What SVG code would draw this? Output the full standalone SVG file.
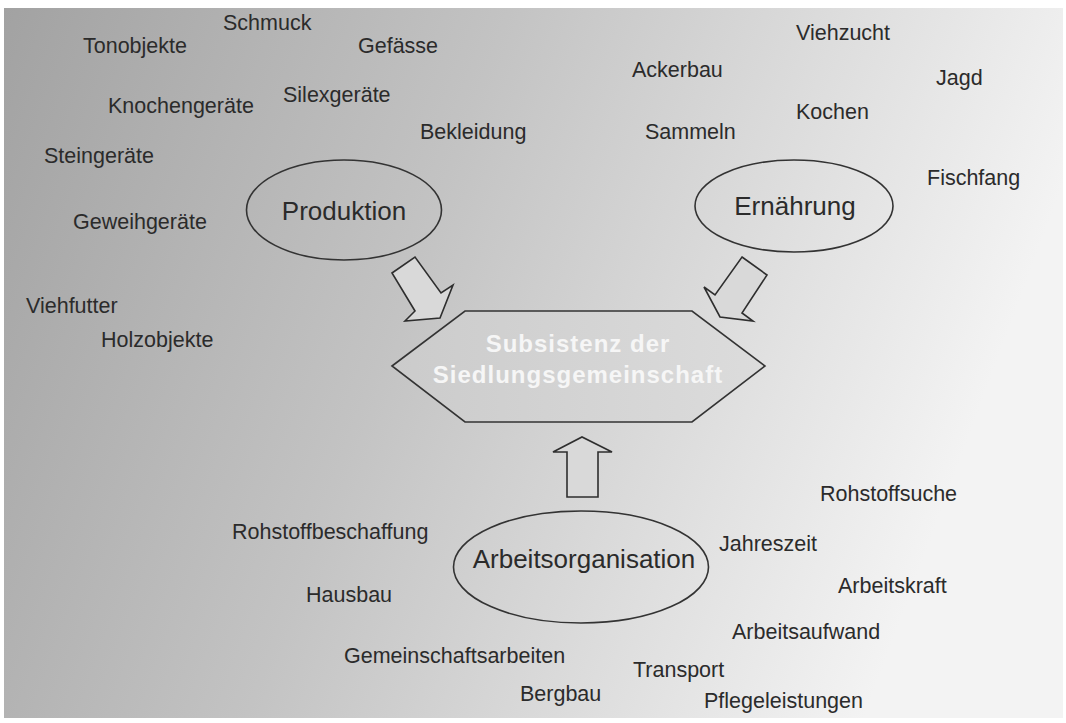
<svg xmlns="http://www.w3.org/2000/svg" width="1066" height="723" viewBox="0 0 1066 723">
  <defs>
    <linearGradient id="bg" x1="0" y1="0" x2="1" y2="0.25">
      <stop offset="0" stop-color="#a2a2a2"/>
      <stop offset="0.45" stop-color="#c3c3c3"/>
      <stop offset="1" stop-color="#f3f3f3"/>
    </linearGradient>
    <linearGradient id="hexfill" x1="0" y1="0" x2="1" y2="0">
      <stop offset="0" stop-color="#cbcbcb"/>
      <stop offset="1" stop-color="#dcdcdc"/>
    </linearGradient>
    <style>
      .lbl { font-family: "Liberation Sans", Arial, sans-serif; font-size: 21.5px; fill: #2b2b2b; }
      .big { font-family: "Liberation Sans", Arial, sans-serif; font-size: 26px; fill: #2b2b2b; text-anchor: middle; }
      .hex { font-family: "Liberation Sans", Arial, sans-serif; font-size: 24px; font-weight: bold; fill: #f6f6f6; text-anchor: middle; letter-spacing: 1px; }
      .ell { fill: none; stroke: #333333; stroke-width: 1.6; }
      .arr { fill: #d9d9d9; stroke: #2e2e2e; stroke-width: 1.6; stroke-linejoin: miter; }
    </style>
  </defs>
  <rect x="0" y="0" width="1066" height="723" fill="#ffffff"/>
  <rect x="4" y="8" width="1059" height="710" fill="url(#bg)"/>

  <g id="connectors">
    <polygon class="arr" points="392,273 415,257 441,293 453,285 440,318 405,321 415,311"/>
    <polygon class="arr" points="742,257 767,275 742,313 753,321 720,317 704,287 715,295"/>
    <polygon class="arr" points="567,497 567,452 553,452 582,437 612,452 598,452 598,497"/>
  </g>

  <g id="node-produktion">
    <ellipse class="ell" cx="344" cy="210" rx="97.5" ry="50"/>
    <text class="big" x="344" y="220">Produktion</text>
  </g>
  <g id="node-ernaehrung">
    <ellipse class="ell" cx="794" cy="206" rx="99" ry="46"/>
    <text class="big" x="795" y="215">Ernährung</text>
  </g>
  <g id="node-arbeitsorganisation">
    <ellipse class="ell" cx="581" cy="567" rx="127.5" ry="56"/>
    <text class="big" x="584" y="568">Arbeitsorganisation</text>
  </g>
  <g id="node-subsistenz">
    <polygon points="392,366 465,311 692,311 765,366 692,422 465,422" fill="url(#hexfill)" stroke="#333333" stroke-width="1.6"/>
    <text class="hex" x="578" y="352">Subsistenz der</text>
    <text class="hex" x="578" y="383">Siedlungsgemeinschaft</text>
  </g>

  <g id="labels-produktion">
    <text class="lbl" x="223" y="30">Schmuck</text>
    <text class="lbl" x="83" y="53">Tonobjekte</text>
    <text class="lbl" x="358" y="53">Gefässe</text>
    <text class="lbl" x="283" y="102">Silexgeräte</text>
    <text class="lbl" x="108" y="113">Knochengeräte</text>
    <text class="lbl" x="420" y="139">Bekleidung</text>
    <text class="lbl" x="44" y="163">Steingeräte</text>
    <text class="lbl" x="73" y="229">Geweihgeräte</text>
    <text class="lbl" x="26" y="313">Viehfutter</text>
    <text class="lbl" x="101" y="347">Holzobjekte</text>
  </g>
  <g id="labels-ernaehrung">
    <text class="lbl" x="796" y="40">Viehzucht</text>
    <text class="lbl" x="632" y="77">Ackerbau</text>
    <text class="lbl" x="936" y="85">Jagd</text>
    <text class="lbl" x="796" y="119">Kochen</text>
    <text class="lbl" x="645" y="139">Sammeln</text>
    <text class="lbl" x="927" y="185">Fischfang</text>
  </g>
  <g id="labels-arbeitsorganisation">
    <text class="lbl" x="820" y="501">Rohstoffsuche</text>
    <text class="lbl" x="232" y="539">Rohstoffbeschaffung</text>
    <text class="lbl" x="719" y="551">Jahreszeit</text>
    <text class="lbl" x="838" y="593">Arbeitskraft</text>
    <text class="lbl" x="306" y="602">Hausbau</text>
    <text class="lbl" x="732" y="639">Arbeitsaufwand</text>
    <text class="lbl" x="344" y="663">Gemeinschaftsarbeiten</text>
    <text class="lbl" x="633" y="677">Transport</text>
    <text class="lbl" x="520" y="701">Bergbau</text>
    <text class="lbl" x="704" y="708">Pflegeleistungen</text>
  </g>
</svg>
